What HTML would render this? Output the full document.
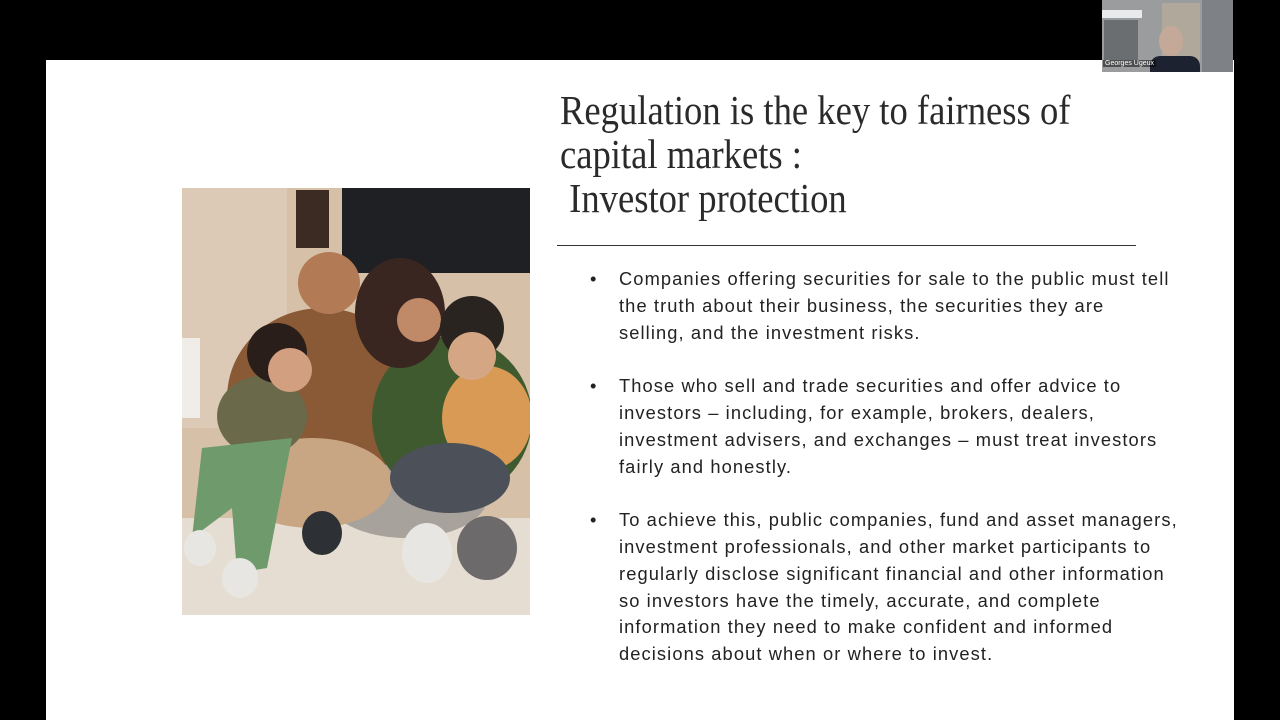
<!DOCTYPE html>
<html><head><meta charset="utf-8">
<style>
body{margin:0;width:1280px;height:720px;background:#000;position:relative;overflow:hidden;font-family:"Liberation Sans",sans-serif;}
.slide{position:absolute;left:46px;top:60px;width:1188px;height:660px;background:#fff;}
.title{position:absolute;left:560px;top:88px;font-family:"Liberation Serif",serif;font-size:41px;line-height:44px;color:#2a2a2a;transform:scaleX(0.893);transform-origin:left top;white-space:nowrap;}
.rule{position:absolute;left:557px;top:245px;width:579px;height:1px;background:#333;}
.bullets{position:absolute;left:590px;top:266px;font-size:18.3px;line-height:26.8px;color:#222;white-space:nowrap;letter-spacing:1.1px;}
.b{position:relative;padding-left:29px;margin-bottom:26.8px;}
.b:before{content:"•";position:absolute;left:0;top:0;}
.cam{position:absolute;left:1102px;top:0;width:131px;height:72px;background:#9a9c9e;overflow:hidden;}
</style></head><body>
<div class="slide"></div>
<svg style="position:absolute;left:182px;top:188px" width="348" height="427" viewBox="0 0 348 427">
<rect width="348" height="427" fill="#d6c0a8"/>
<rect x="0" y="0" width="105" height="240" fill="#dccab6"/>
<rect x="0" y="330" width="348" height="97" fill="#e6ddd2"/>
<rect x="160" y="0" width="188" height="85" fill="#1f2023"/>
<rect x="114" y="2" width="33" height="58" fill="#3b2b22"/>
<rect x="0" y="150" width="18" height="80" fill="#f0ece8"/>
<ellipse cx="225" cy="310" rx="80" ry="40" fill="#a8a29c"/>
<ellipse cx="140" cy="210" rx="95" ry="90" fill="#8a5a36"/>
<ellipse cx="270" cy="230" rx="80" ry="82" fill="#3e5a2e"/>
<circle cx="147" cy="95" r="31" fill="#b27b56"/>
<ellipse cx="218" cy="125" rx="45" ry="55" fill="#3a2620"/>
<circle cx="237" cy="132" r="22" fill="#c08a68"/>
<ellipse cx="130" cy="295" rx="80" ry="45" fill="#c9a683"/>
<ellipse cx="80" cy="228" rx="45" ry="40" fill="#6a6a4a"/>
<circle cx="95" cy="165" r="30" fill="#2a1e1a"/>
<circle cx="108" cy="182" r="22" fill="#d2a080"/>
<polygon points="20,260 110,250 85,380 55,385 50,320 10,350" fill="#6f9a6c"/>
<ellipse cx="18" cy="360" rx="16" ry="18" fill="#e8e6e3"/>
<ellipse cx="58" cy="390" rx="18" ry="20" fill="#e8e6e3"/>
<ellipse cx="140" cy="345" rx="20" ry="22" fill="#2d3035"/>
<ellipse cx="305" cy="230" rx="45" ry="52" fill="#d89a55"/>
<circle cx="290" cy="140" r="32" fill="#2a2420"/>
<circle cx="290" cy="168" r="24" fill="#d4a684"/>
<ellipse cx="268" cy="290" rx="60" ry="35" fill="#4c5058"/>
<ellipse cx="305" cy="360" rx="30" ry="32" fill="#6c6a6a"/>
<ellipse cx="245" cy="365" rx="25" ry="30" fill="#e8e6e3"/>
</svg>
<div class="title">Regulation is the key to fairness of<br>capital markets :<br>&nbsp;Investor protection</div>
<div class="rule"></div>
<div class="bullets">
<div class="b">Companies offering securities for sale to the public must tell<br>the truth about their business, the securities they are<br>selling, and the investment risks.</div>
<div class="b">Those who sell and trade securities and offer advice to<br>investors – including, for example, brokers, dealers,<br>investment advisers, and exchanges – must treat investors<br>fairly and honestly.</div>
<div class="b">To achieve this, public companies, fund and asset managers,<br>investment professionals, and other market participants to<br>regularly disclose significant financial and other information<br>so investors have the timely, accurate, and complete<br>information they need to make confident and informed<br>decisions about when or where to invest.</div>
</div>
<div class="cam">
<div style="position:absolute;left:0;top:10px;width:40px;height:8px;background:#e8eaec"></div>
<div style="position:absolute;left:2px;top:20px;width:34px;height:40px;background:#6a6e70"></div>
<div style="position:absolute;left:60px;top:3px;width:38px;height:60px;background:#b0a89a"></div>
<div style="position:absolute;left:100px;top:0;width:31px;height:72px;background:#7e8286"></div>
<div style="position:absolute;left:57px;top:26px;width:24px;height:30px;border-radius:50%;background:#c4a898"></div>
<div style="position:absolute;left:48px;top:56px;width:50px;height:20px;border-radius:10px 10px 0 0;background:#1c2230"></div>
<div style="position:absolute;left:1px;top:60px;font-size:7px;color:#fff;background:rgba(0,0,0,.5);padding:0 2px">Georges Ugeux</div>
</div>
</body></html>
